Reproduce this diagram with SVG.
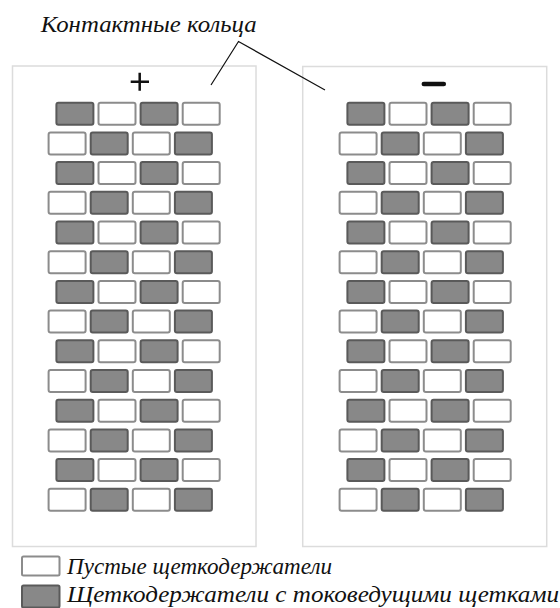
<svg xmlns="http://www.w3.org/2000/svg" xmlns:xlink="http://www.w3.org/1999/xlink" width="560" height="608" viewBox="0 0 560 608">
<style>
.panel{fill:#fff;stroke:#dcdcdc;stroke-width:1.5}
.d{fill:#888;stroke:#5a5a5a;stroke-width:2}
.w{fill:#fff;stroke:#8c8c8c;stroke-width:2}
.t{font-family:"Liberation Serif","Times New Roman",serif;font-style:italic;fill:#111}
.lead{stroke:#111;stroke-width:1.2;fill:none}
</style>
<defs>
<rect id="bd" class="d" x="1" y="1" width="37" height="22" rx="2"/>
<rect id="bw" class="w" x="1" y="1" width="37" height="22" rx="2"/>
<g id="rowA"><use xlink:href="#bd" x="0"/><use xlink:href="#bw" x="42.1"/><use xlink:href="#bd" x="84.2"/><use xlink:href="#bw" x="126.3"/></g>
<g id="rowB"><use xlink:href="#bw" x="0"/><use xlink:href="#bd" x="42.1"/><use xlink:href="#bw" x="84.2"/><use xlink:href="#bd" x="126.3"/></g>
<g id="stack">
<use xlink:href="#rowA" x="7.8" y="0"/>
<use xlink:href="#rowB" x="0" y="29.7"/>
<use xlink:href="#rowA" x="7.8" y="59.4"/>
<use xlink:href="#rowB" x="0" y="89.1"/>
<use xlink:href="#rowA" x="7.8" y="118.8"/>
<use xlink:href="#rowB" x="0" y="148.5"/>
<use xlink:href="#rowA" x="7.8" y="178.2"/>
<use xlink:href="#rowB" x="0" y="207.9"/>
<use xlink:href="#rowA" x="7.8" y="237.6"/>
<use xlink:href="#rowB" x="0" y="267.3"/>
<use xlink:href="#rowA" x="7.8" y="297"/>
<use xlink:href="#rowB" x="0" y="326.7"/>
<use xlink:href="#rowA" x="7.8" y="356.4"/>
<use xlink:href="#rowB" x="0" y="386.1"/>
</g>
</defs>
<rect width="560" height="608" fill="#fff"/>
<g id="ring-plus">
<rect class="panel" x="12.5" y="66" width="243.5" height="480.5"/>
<path d="M130.7 81.7H149M139.7 72.7V90.7" stroke="#111" stroke-width="2.5" fill="none"/>
<use xlink:href="#stack" x="47.6" y="101.7"/>
</g>
<g id="ring-minus">
<rect class="panel" x="302.7" y="66.5" width="244" height="480"/>
<line x1="423.8" y1="84" x2="443.8" y2="84" stroke="#111" stroke-width="4.5" stroke-linecap="round"/>
<use xlink:href="#stack" x="338.6" y="101.7"/>
</g>
<g id="connectors">
<path class="lead" d="M211 85L238.5 41.5L325 90"/>
</g>
<g id="title">
<text class="t" x="40.7" y="31.5" font-size="24" textLength="216" lengthAdjust="spacingAndGlyphs">Контактные кольца</text>
</g>
<g id="legend">
<rect class="w" x="22" y="556.5" width="37.5" height="19" rx="1.5"/>
<rect class="d" x="22" y="585.5" width="37.5" height="22" rx="1.5"/>
<text class="t" x="67" y="574" font-size="22.5" textLength="265" lengthAdjust="spacingAndGlyphs">Пустые щеткодержатели</text>
<text class="t" x="67" y="601.5" font-size="22.5" textLength="492" lengthAdjust="spacingAndGlyphs">Щеткодержатели с токоведущими щетками</text>
</g>
</svg>
